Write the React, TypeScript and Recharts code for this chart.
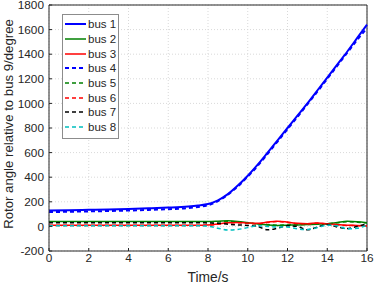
import React from 'react';
import { LineChart, Line, XAxis, YAxis, CartesianGrid, ReferenceLine } from 'recharts';

const times = [0, 1, 2, 3, 4, 5, 6, 7, 7.5, 8, 8.5, 9, 9.5, 10, 10.5, 11, 11.5, 12, 12.5, 13, 13.5, 14, 14.5, 15, 15.5, 16];

const bus1 = [130, 132, 135, 138, 142, 147, 153, 162, 170, 182, 212, 262, 332, 412, 502, 600, 700, 800, 900, 1000, 1105, 1210, 1315, 1420, 1530, 1640];
const bus2 = [40, 40, 40, 40, 40, 40, 40, 40, 40, 40, 42, 45, 40, 30, 20, 12, 8, 10, 12, 15, 18, 22, 32, 42, 38, 30];
const bus3 = [10, 10, 10, 10, 10, 10, 10, 10, 10, 12, 20, 30, 32, 28, 25, 35, 42, 35, 25, 22, 28, 22, 15, 10, 8, 5];
const bus4 = [117, 119, 122, 125, 129, 134, 140, 149, 158, 172, 205, 258, 325, 405, 492, 590, 690, 790, 890, 993, 1095, 1200, 1305, 1410, 1515, 1612];
const bus5 = [36, 36, 36, 36, 36, 36, 36, 36, 36, 36, 38, 40, 35, 28, 20, 14, 10, 12, 14, 16, 18, 22, 30, 38, 34, 28];
const bus6 = [8, 8, 8, 8, 8, 8, 8, 8, 8, 10, 18, 28, 30, 26, 22, 32, 40, 32, 22, 20, 26, 20, 12, 8, 6, 4];
const bus7 = [30, 30, 30, 30, 30, 30, 30, 30, 30, 28, 25, 18, 12, 8, 0, -28, -15, 5, 0, -28, -5, 15, -5, -18, 0, 20];
const bus8 = [5, 5, 5, 5, 5, 5, 5, 5, 5, 2, -15, -30, -25, -10, 5, 0, -5, -5, -20, -25, -10, 10, 5, -20, -15, 10];

const xTicks = [0, 2, 4, 6, 8, 10, 12, 14, 16];
const yTicks = [-200, 0, 200, 400, 600, 800, 1000, 1200, 1400, 1600, 1800];

const series = [
  { key: 'bus1', name: 'bus 1', values: bus1, color: '#0000ff', dash: undefined, width: 2 },
  { key: 'bus2', name: 'bus 2', values: bus2, color: '#008000', dash: undefined, width: 1.5 },
  { key: 'bus3', name: 'bus 3', values: bus3, color: '#ff0000', dash: undefined, width: 1.5 },
  { key: 'bus4', name: 'bus 4', values: bus4, color: '#0000ff', dash: '4 3', width: 2 },
  { key: 'bus5', name: 'bus 5', values: bus5, color: '#008000', dash: '4 3', width: 1.5 },
  { key: 'bus6', name: 'bus 6', values: bus6, color: '#ff0000', dash: '4 3', width: 1.5 },
  { key: 'bus7', name: 'bus 7', values: bus7, color: '#000000', dash: '4 3', width: 1.5 },
  { key: 'bus8', name: 'bus 8', values: bus8, color: '#00bfbf', dash: '4 3', width: 1.5 },
];

const data = times.map((t, i) => {
  const row: Record<string, number> = { t };
  series.forEach((s) => {
    row[s.key] = s.values[i];
  });
  return row;
});

const FONT = '"Liberation Sans", Arial, Helvetica, sans-serif';
const AXIS = '#262626';

export default function App() {
  return (
    <div style={{ position: 'absolute', left: 0, top: 0, width: 374, height: 287, background: '#fff' }}>
      <LineChart
        width={374}
        height={287}
        data={data}
        margin={{ top: 5, right: 7, bottom: 0, left: 0 }}
        style={{ fontFamily: FONT }}
      >
        <CartesianGrid stroke="#d9d9d9" strokeDasharray="1 2" />
        <XAxis
          dataKey="t"
          type="number"
          domain={[0, 16]}
          ticks={xTicks}
          interval={0}
          height={36}
          stroke={AXIS}
          tick={{ fill: AXIS, fontSize: 11.8 }}
          tickSize={-3}
          tickMargin={6}
        />
        <YAxis
          type="number"
          domain={[-200, 1800]}
          ticks={yTicks}
          interval={0}
          width={49}
          stroke={AXIS}
          tick={{ fill: AXIS, fontSize: 11.8 }}
          tickSize={-3}
          tickMargin={8}
        />
        <ReferenceLine x={16} stroke={AXIS} />
        <ReferenceLine y={1800} stroke={AXIS} />
        {series.map((s) => (
          <Line
            key={s.key}
            dataKey={s.key}
            name={s.name}
            type="monotone"
            stroke={s.color}
            strokeWidth={s.width}
            strokeDasharray={s.dash}
            dot={false}
            isAnimationActive={false}
          />
        ))}
      </LineChart>
      <div
        style={{
          position: 'absolute',
          left: 62,
          top: 14,
          background: '#fff',
          border: '1px solid #8c8c8c',
          width: 54,
          padding: '2px 0 3px 1px',
          fontFamily: FONT,
          fontSize: 11.5,
          color: AXIS,
        }}
      >
        {series.map((s) => (
          <div key={s.key} style={{ display: 'flex', alignItems: 'center', height: 14.7 }}>
            <svg width={23} height={6} style={{ marginRight: 1 }}>
              <line x1={1} y1={3} x2={22} y2={3} stroke={s.color} strokeWidth={s.width} strokeDasharray={s.dash} />
            </svg>
            <span>{s.name}</span>
          </div>
        ))}
      </div>
      <div
        style={{
          position: 'absolute',
          left: 208,
          top: 277,
          transform: 'translate(-50%, -50%)',
          fontFamily: FONT,
          fontSize: 13.8,
          color: AXIS,
          whiteSpace: 'nowrap',
        }}
      >
        Time/s
      </div>
      <div
        style={{
          position: 'absolute',
          left: 8,
          top: 124,
          transform: 'translate(-50%, -50%) rotate(-90deg)',
          fontFamily: FONT,
          fontSize: 13.2,
          color: AXIS,
          whiteSpace: 'nowrap',
        }}
      >
        Rotor angle relative to bus 9/degree
      </div>
    </div>
  );
}
